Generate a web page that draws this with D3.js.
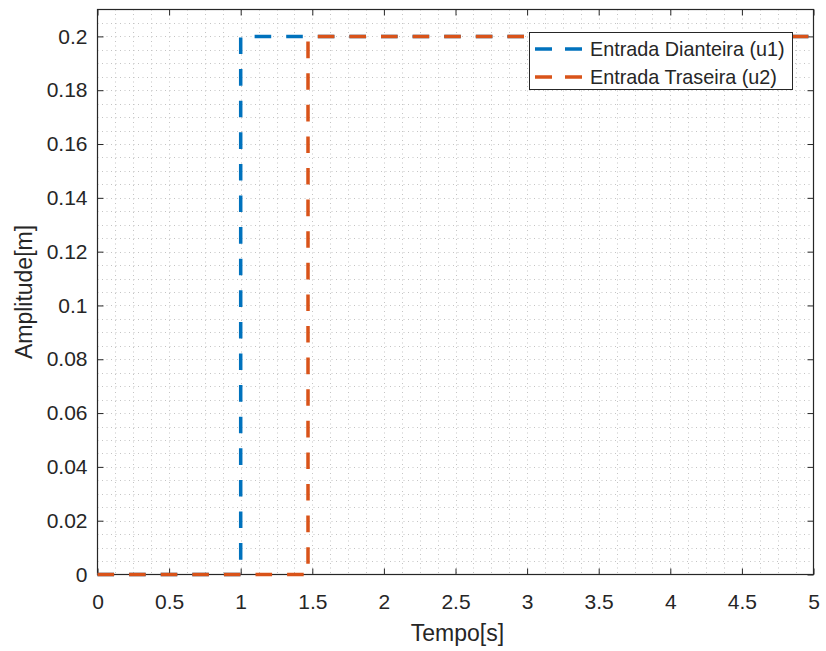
<!DOCTYPE html>
<html>
<head>
<meta charset="utf-8">
<script src="https://cdn.jsdelivr.net/npm/d3@7"></script>
<style>
  html, body { margin: 0; padding: 0; background: #fff; }
  svg { display: block; font-family: "Liberation Sans", Arial, Helvetica, sans-serif; }
</style>
</head>
<body>
<svg id="chart" width="826" height="651"></svg>
<script>
// ---- data ----
const seriesNames = ["Entrada Dianteira (u1)", "Entrada Traseira (u2)"];
const seriesColors = ["#0072BD", "#D95319"];
const u1Time = [0, 1, 1, 5];
const u1Value = [0, 0, 0.2, 0.2];
const u2Time = [0, 1.47, 1.47, 5];
const u2Value = [0, 0, 0.2, 0.2];
const xTicks = [0, 0.5, 1, 1.5, 2, 2.5, 3, 3.5, 4, 4.5, 5];
const yTicks = [0, 0.02, 0.04, 0.06, 0.08, 0.1, 0.12, 0.14, 0.16, 0.18, 0.2];
const xLabel = "Tempo[s]";
const yLabel = "Amplitude[m]";

// ---- layout ----
const L = 97.5, R = 813.5, T = 9.5, B = 574.5;
const axisColor = "#262626";
const svg = d3.select("#chart");

const x = d3.scaleLinear().domain([0, 5]).range([L, R]);
const y = d3.scaleLinear().domain([0, 0.21]).range([B, T]);

// grid (dotted, minor + major)
const xGrid = d3.range(0, 5.0001, 0.125);
const yGrid = d3.range(0, 0.21 + 1e-9, 0.005);
const grid = svg.append("g")
  .attr("stroke", "#c4c4c4").attr("stroke-width", 1)
  .attr("stroke-dasharray", "1,3.5");
grid.selectAll("line.gx").data(xGrid.filter(v => v > 0 && v < 5)).join("line")
  .attr("x1", d => Math.round(x(d)) + 0.5).attr("x2", d => Math.round(x(d)) + 0.5)
  .attr("y1", T).attr("y2", B);
grid.selectAll("line.gy").data(yGrid.filter(v => v > 0 && v < 0.21 - 1e-9)).join("line")
  .attr("y1", d => Math.round(y(d)) + 0.5).attr("y2", d => Math.round(y(d)) + 0.5)
  .attr("x1", L).attr("x2", R);

// axes
const fmt = v => String(+v.toFixed(3));
const tickLen = 6;
const xAxisB = d3.axisBottom(x).tickValues(xTicks).tickFormat(fmt).tickSizeInner(-tickLen).tickSizeOuter(0).tickPadding(20);
const xAxisT = d3.axisTop(x).tickValues(xTicks).tickFormat("").tickSizeInner(-tickLen).tickSizeOuter(0);
const yAxisL = d3.axisLeft(y).tickValues(yTicks).tickFormat(fmt).tickSizeInner(-tickLen).tickSizeOuter(0).tickPadding(10);
const yAxisR = d3.axisRight(y).tickValues(yTicks).tickFormat("").tickSizeInner(-tickLen).tickSizeOuter(0);

function styleAxis(g) {
  g.select(".domain").remove();
  g.selectAll("line").attr("stroke", axisColor).attr("stroke-width", 1);
  g.selectAll("text").attr("fill", axisColor).attr("font-size", 21)
    .attr("font-family", "'Liberation Sans', Arial, sans-serif");
}
svg.append("g").attr("transform", `translate(0,${B})`).call(xAxisB).call(styleAxis);
svg.append("g").attr("transform", `translate(0,${T})`).call(xAxisT).call(styleAxis);
svg.append("g").attr("transform", `translate(${L},0)`).call(yAxisL).call(styleAxis);
svg.append("g").attr("transform", `translate(${R},0)`).call(yAxisR).call(styleAxis);

// box
svg.append("rect").attr("x", L).attr("y", T).attr("width", R - L).attr("height", B - T)
  .attr("fill", "none").attr("stroke", axisColor).attr("stroke-width", 1.2);

// labels
svg.append("text").attr("x", (L + R) / 2 + 2).attr("y", 641).attr("text-anchor", "middle")
  .attr("font-size", 23).attr("fill", axisColor).text(xLabel);
svg.append("text").attr("transform", `translate(32,${(T + B) / 2}) rotate(-90)`)
  .attr("text-anchor", "middle").attr("font-size", 23).attr("fill", axisColor).text(yLabel);

// lines
const line = d3.line().x(d => x(d[0])).y(d => y(d[1]));
const series = [
  d3.zip(u1Time, u1Value),
  d3.zip(u2Time, u2Value)
];
svg.append("g").selectAll("path").data(series).join("path")
  .attr("d", line)
  .attr("fill", "none")
  .attr("stroke", (d, i) => seriesColors[i])
  .attr("stroke-width", 3.5)
  .attr("stroke-dasharray", "16.6,15");

// legend
const lg = svg.append("g");
lg.append("rect").attr("x", 529.5).attr("y", 32.5).attr("width", 263).attr("height", 57)
  .attr("fill", "#fff").attr("stroke", axisColor).attr("stroke-width", 1);
const rows = lg.selectAll("g.row").data(seriesNames).join("g")
  .attr("transform", (d, i) => `translate(0,${49 + i * 28})`);
rows.append("line").attr("x1", 535).attr("x2", 587).attr("y1", 0).attr("y2", 0)
  .attr("stroke", (d, i) => seriesColors[i]).attr("stroke-width", 3.5)
  .attr("stroke-dasharray", "17,13");
rows.append("text").attr("x", 590).attr("y", 7).attr("font-size", 19.8)
  .attr("fill", axisColor).text(d => d);
</script>
</body>
</html>
